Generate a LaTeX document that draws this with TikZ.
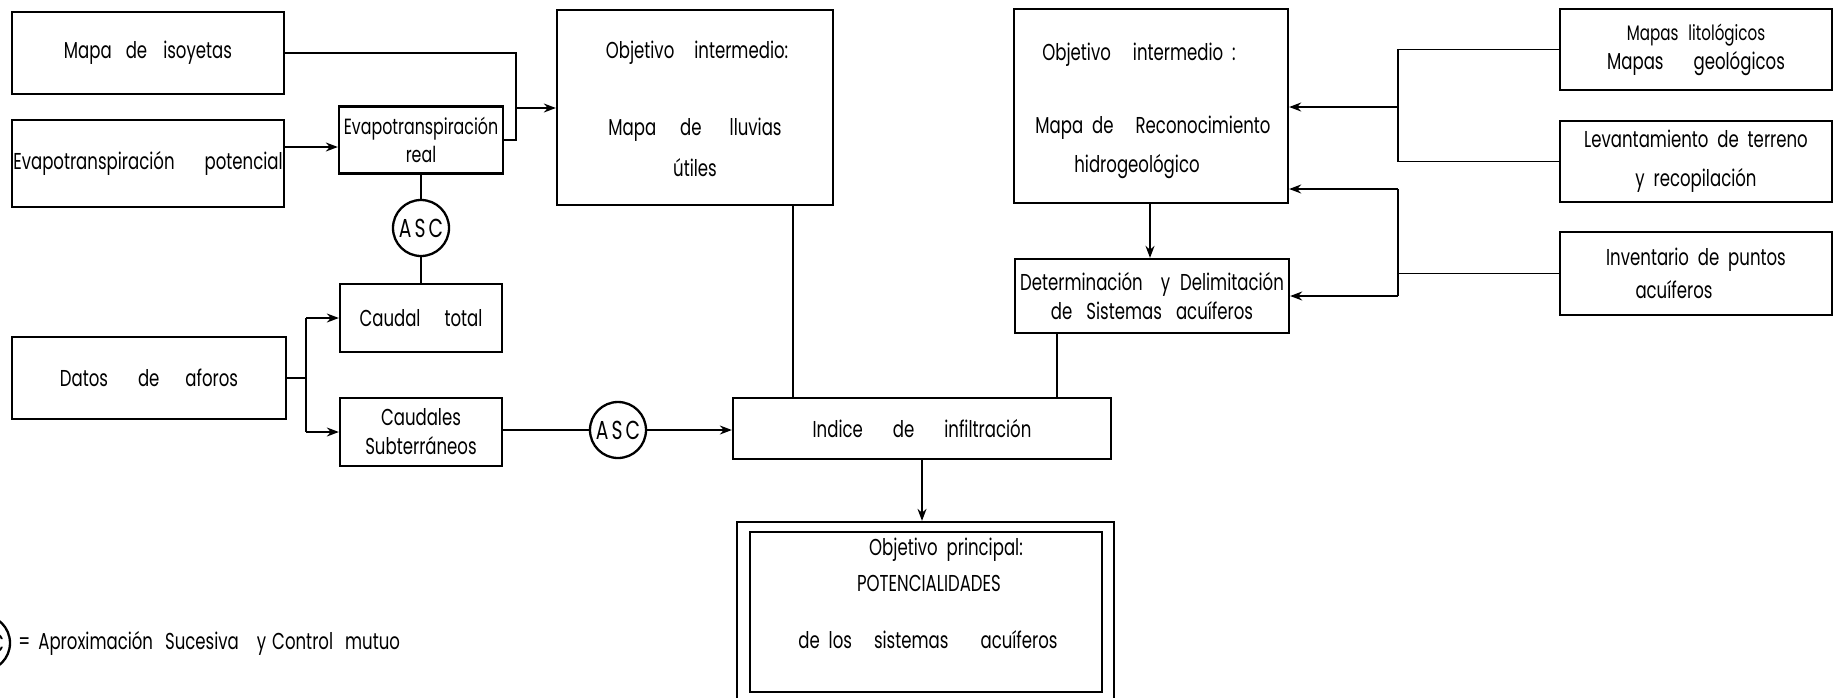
\documentclass[tikz,border=0pt]{standalone}
\usepackage{fontspec}
\setmainfont{Poppins}[FakeStretch=0.72,WordSpace=2]
\usetikzlibrary{arrows.meta,calc}
\newcommand{\wsp}[1]{\hspace*{#1pt}}
\begin{document}
\begin{tikzpicture}[x=0.5pt,y=-0.5pt,
  every node/.style={font=\fontsize{11.5}{14.5}\selectfont},
  box/.style={draw,line width=1.15pt,inner sep=0pt,align=center},
  lbl/.style={inner sep=0pt,align=center},
  conn/.style={line width=0.8pt},
  arr/.style={conn,-{Stealth[length=6pt,width=4.5pt]}},
  ascc/.style={draw,circle,line width=1.15pt,minimum size=28pt,inner sep=0pt,font=\fontsize{13}{14}\selectfont}
]
\useasboundingbox (0,0) rectangle (1834,697);
\clip (0,0) rectangle (1834,697);

% left column
\node[box,minimum width=136pt,minimum height=41pt] (iso) at (148,53) {Mapa\wsp{7}de\wsp{8}isoyetas};
\node[box,minimum width=136pt,minimum height=43.5pt] (evp) at (148,163.5) {Evapotranspiración\wsp{15}potencial};
\node[box,minimum width=82pt,minimum height=33.5pt,font=\fontsize{11}{14}\selectfont] (evr) at (421,140) {Evapotranspiración\\real};
\node[ascc] (asc1) at (421,228) {A\hspace{1.5pt}S\hspace{1.5pt}C};
\node[box,minimum width=81pt,minimum height=34pt] (ct) at (421,318) {Caudal\wsp{12}total};
\node[box,minimum width=137pt,minimum height=41pt] (dat) at (149,378) {Datos\wsp{15}de\wsp{13}aforos};
\node[box,minimum width=81pt,minimum height=34pt] (cs) at (421,432) {Caudales\\Subterráneos};
\node[ascc] (asc2) at (618,430) {A\hspace{1.5pt}S\hspace{1.5pt}C};

% middle
\node[box,minimum width=138pt,minimum height=97.5pt] (oil) at (695,107.5) {};
\node[lbl] (oil1) at (697,53) {Objetivo\wsp{10}intermedio:};
\node[lbl] (oil2) at (695,130) {Mapa\wsp{12}de\wsp{14}lluvias};
\node[lbl] (oil3) at (695,168) {útiles};

\node[box,minimum width=189pt,minimum height=30.5pt] (ind) at (922,428.5) {Indice\wsp{15}de\wsp{15}infiltración};

\node[box,minimum width=188.5pt,minimum height=91.5pt] (obpo) at (925.5,613.5) {};
\node[box,minimum width=176pt,minimum height=80pt] (obp) at (926,612) {};
\node[lbl] (obp1) at (946,550) {Objetivo principal:};
\node[lbl] (obp2) at (929,583) {POTENCIALIDADES};
\node[lbl] (obp3) at (928,640) {de los\wsp{11}sistemas\wsp{16}acuíferos};

% right-middle
\node[box,minimum width=137pt,minimum height=97pt] (oir) at (1151,106) {};
\node[lbl] (oir1) at (1139,55) {Objetivo\wsp{11}intermedio :};
\node[lbl] (oir2) at (1153,128) {Mapa de\wsp{11}Reconocimiento};
\node[lbl] (oir3) at (1137,167) {hidrogeológico};
\node[box,minimum width=137pt,minimum height=37pt] (det) at (1152,296) {Determinación\wsp{9}y\wsp{5}Delimitación\\de\wsp{7}Sistemas\wsp{7}acuíferos};

% right column
\node[box,minimum width=136pt,minimum height=40.5pt] (map) at (1696,49.5) {{\fontsize{10.5}{14.5}\selectfont Mapas\wsp{5}litológicos}\\Mapas\wsp{15}geológicos};
\node[box,minimum width=136pt,minimum height=40.5pt] (lev) at (1696,161.5) {Levantamiento de terreno\\[5pt]y recopilación};
\node[box,minimum width=136pt,minimum height=41.5pt] (inv) at (1696,273.5) {Inventario de puntos\\[2pt]acuíferos\hspace*{22pt}};

% legend
\node[ascc] (ascl) at (-18,643) {A\hspace{1.5pt}S\hspace{1.5pt}C};
\node[lbl,anchor=west] (leg) at (18,643) {=\wsp{4}Aproximación\wsp{6}Sucesiva\wsp{9}y\wsp{3}Control\wsp{6}mutuo};

% connectors
\coordinate (j1) at (516,108);
\draw[conn] (iso.east) -- (iso.east -| j1) -- (evr.east -| j1) -- (evr.east);
\draw[arr] (j1) -- (j1 -| oil.west);
\coordinate (a1) at (300,147);
\draw[arr] (a1 -| evp.east) -- (a1 -| evr.west);
\draw[conn] (evr.south) -- (asc1.north);
\draw[conn] (asc1.south) -- (ct.north);
\coordinate (j2) at (306,378);
\draw[conn] (dat.east) -- (j2);
\draw[conn] (j2 |- ct.west) -- (j2 |- cs.west);
\draw[arr] (j2 |- ct.west) -- (ct.west);
\draw[arr] (j2 |- cs.west) -- (cs.west);
\draw[conn] (cs.east |- asc2) -- (asc2.west);
\draw[arr] (asc2.east) -- (asc2.east -| ind.west);
\coordinate (v1) at (793,300);
\draw[conn] (v1 |- oil.south) -- (v1 |- ind.north);
\coordinate (v2) at (1057,300);
\draw[conn] (v2 |- det.south) -- (v2 |- ind.north);
\draw[arr] (ind.south) -- (ind.south |- obpo.north);
\coordinate (v3) at (1150,230);
\draw[arr] (v3 |- oir.south) -- (v3 |- det.north);
\coordinate (j3) at (1398,107);
\draw[conn] (map.west) -- (map.west -| j3) -- (lev.west -| j3) -- (lev.west);
\draw[arr] (j3) -- (j3 -| oir.east);
\coordinate (j4) at (1398,189);
\coordinate (j5) at (1398,296);
\draw[conn] (inv.west) -- (inv.west -| j4);
\draw[conn] (j4) -- (j5);
\draw[arr] (j4) -- (j4 -| oir.east);
\draw[arr] (j5) -- (j5 -| det.east);
\end{tikzpicture}
\end{document}
